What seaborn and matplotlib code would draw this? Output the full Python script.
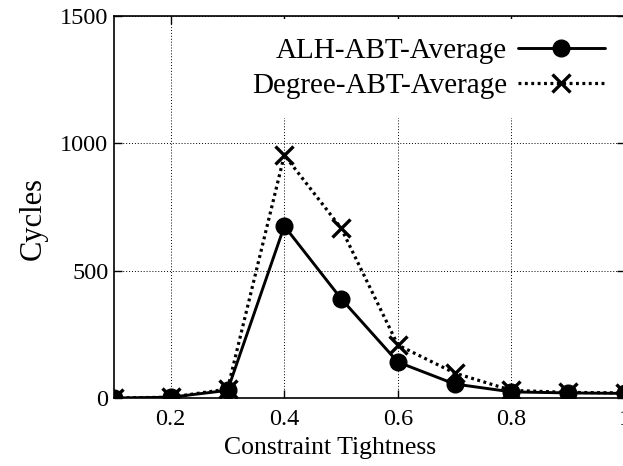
import matplotlib
matplotlib.use("Agg")
import matplotlib.pyplot as plt
import seaborn as sns
import pandas as pd

# ---- data ----
tightness = [0.1, 0.2, 0.3, 0.4, 0.5, 0.6, 0.7, 0.8, 0.9, 1.0]
alh_abt = [0, 3, 30, 675, 390, 141, 55, 24, 20, 18]
degree_abt = [0, 3, 35, 954, 667, 208, 98, 30, 22, 20]
series_labels = ["ALH-ABT-Average", "Degree-ABT-Average"]
x_ticks = [0.2, 0.4, 0.6, 0.8, 1.0]
x_ticklabels = ["0.2", "0.4", "0.6", "0.8", "1"]
y_ticks = [0, 500, 1000, 1500]

sns.set_theme(style="ticks")
plt.rcParams["font.family"] = ["Liberation Serif", "DejaVu Serif"]

W, H = 623, 466
fig = plt.figure(figsize=(W / 100, H / 100), dpi=100)
ax_left, ax_right, ax_top, ax_bottom = 114, 625, 16, 398
ax = fig.add_axes([ax_left / W, (H - ax_bottom) / H,
                   (ax_right - ax_left) / W, (ax_bottom - ax_top) / H])

df = pd.DataFrame({"x": tightness, "alh": alh_abt, "deg": degree_abt})

sns.lineplot(data=df, x="x", y="alh", ax=ax, color="black", lw=2.1,
             marker="o", markersize=12, mec="black", mfc="black", mew=1,
             label=series_labels[0], zorder=3)
sns.lineplot(data=df, x="x", y="deg", ax=ax, color="black", lw=2.3,
             linestyle=(0, (0.9, 1.1)), marker="x", markersize=13, mec="black",
             mew=2.4, label=series_labels[1], zorder=3)

ax.set_xlim(0.1, 1.0)
ax.set_ylim(0, 1500)
ax.set_xticks(x_ticks)
ax.set_xticklabels(x_ticklabels)
ax.set_yticks(y_ticks)

# dotted grid drawn beneath everything (legend box will hide part of it)
for xv in x_ticks:
    ax.axvline(xv, linestyle=(0, (1, 2)), color="black", linewidth=0.7, zorder=0.4)
for yv in y_ticks:
    ax.axhline(yv, linestyle=(0, (1, 2)), color="black", linewidth=0.7, zorder=0.4)

for s in ax.spines.values():
    s.set_linewidth(1.2)
    s.set_color("black")

ax.tick_params(direction="in", top=True, right=True, length=6, width=1,
               labelsize=17.5, colors="black")
ax.tick_params(axis="x", pad=8)
ax.tick_params(axis="y", pad=4)

ax.set_xlabel("Constraint Tightness", fontsize=18.5, color="black")
ax.set_ylabel("Cycles", fontsize=22, color="black")
aw, ah = ax_right - ax_left, ax_bottom - ax_top
ax.xaxis.set_label_coords((330 - ax_left) / aw, -(437 - ax_bottom) / ah)
ax.yaxis.set_label_coords((48 - ax_left) / aw, (ax_bottom - 219) / ah)

leg = ax.legend(loc="upper right", bbox_to_anchor=(624 / W, 1 - 19 / H),
                bbox_transform=fig.transFigure, markerfirst=False,
                fontsize=21, handlelength=3.0, handletextpad=0.35,
                labelspacing=0.28, borderpad=0.65, frameon=True,
                fancybox=False, framealpha=1, facecolor="white",
                edgecolor="none", borderaxespad=0)
leg.set_zorder(2)
for t in leg.get_texts():
    t.set_color("black")

fig.savefig("out.png", dpi=100)
